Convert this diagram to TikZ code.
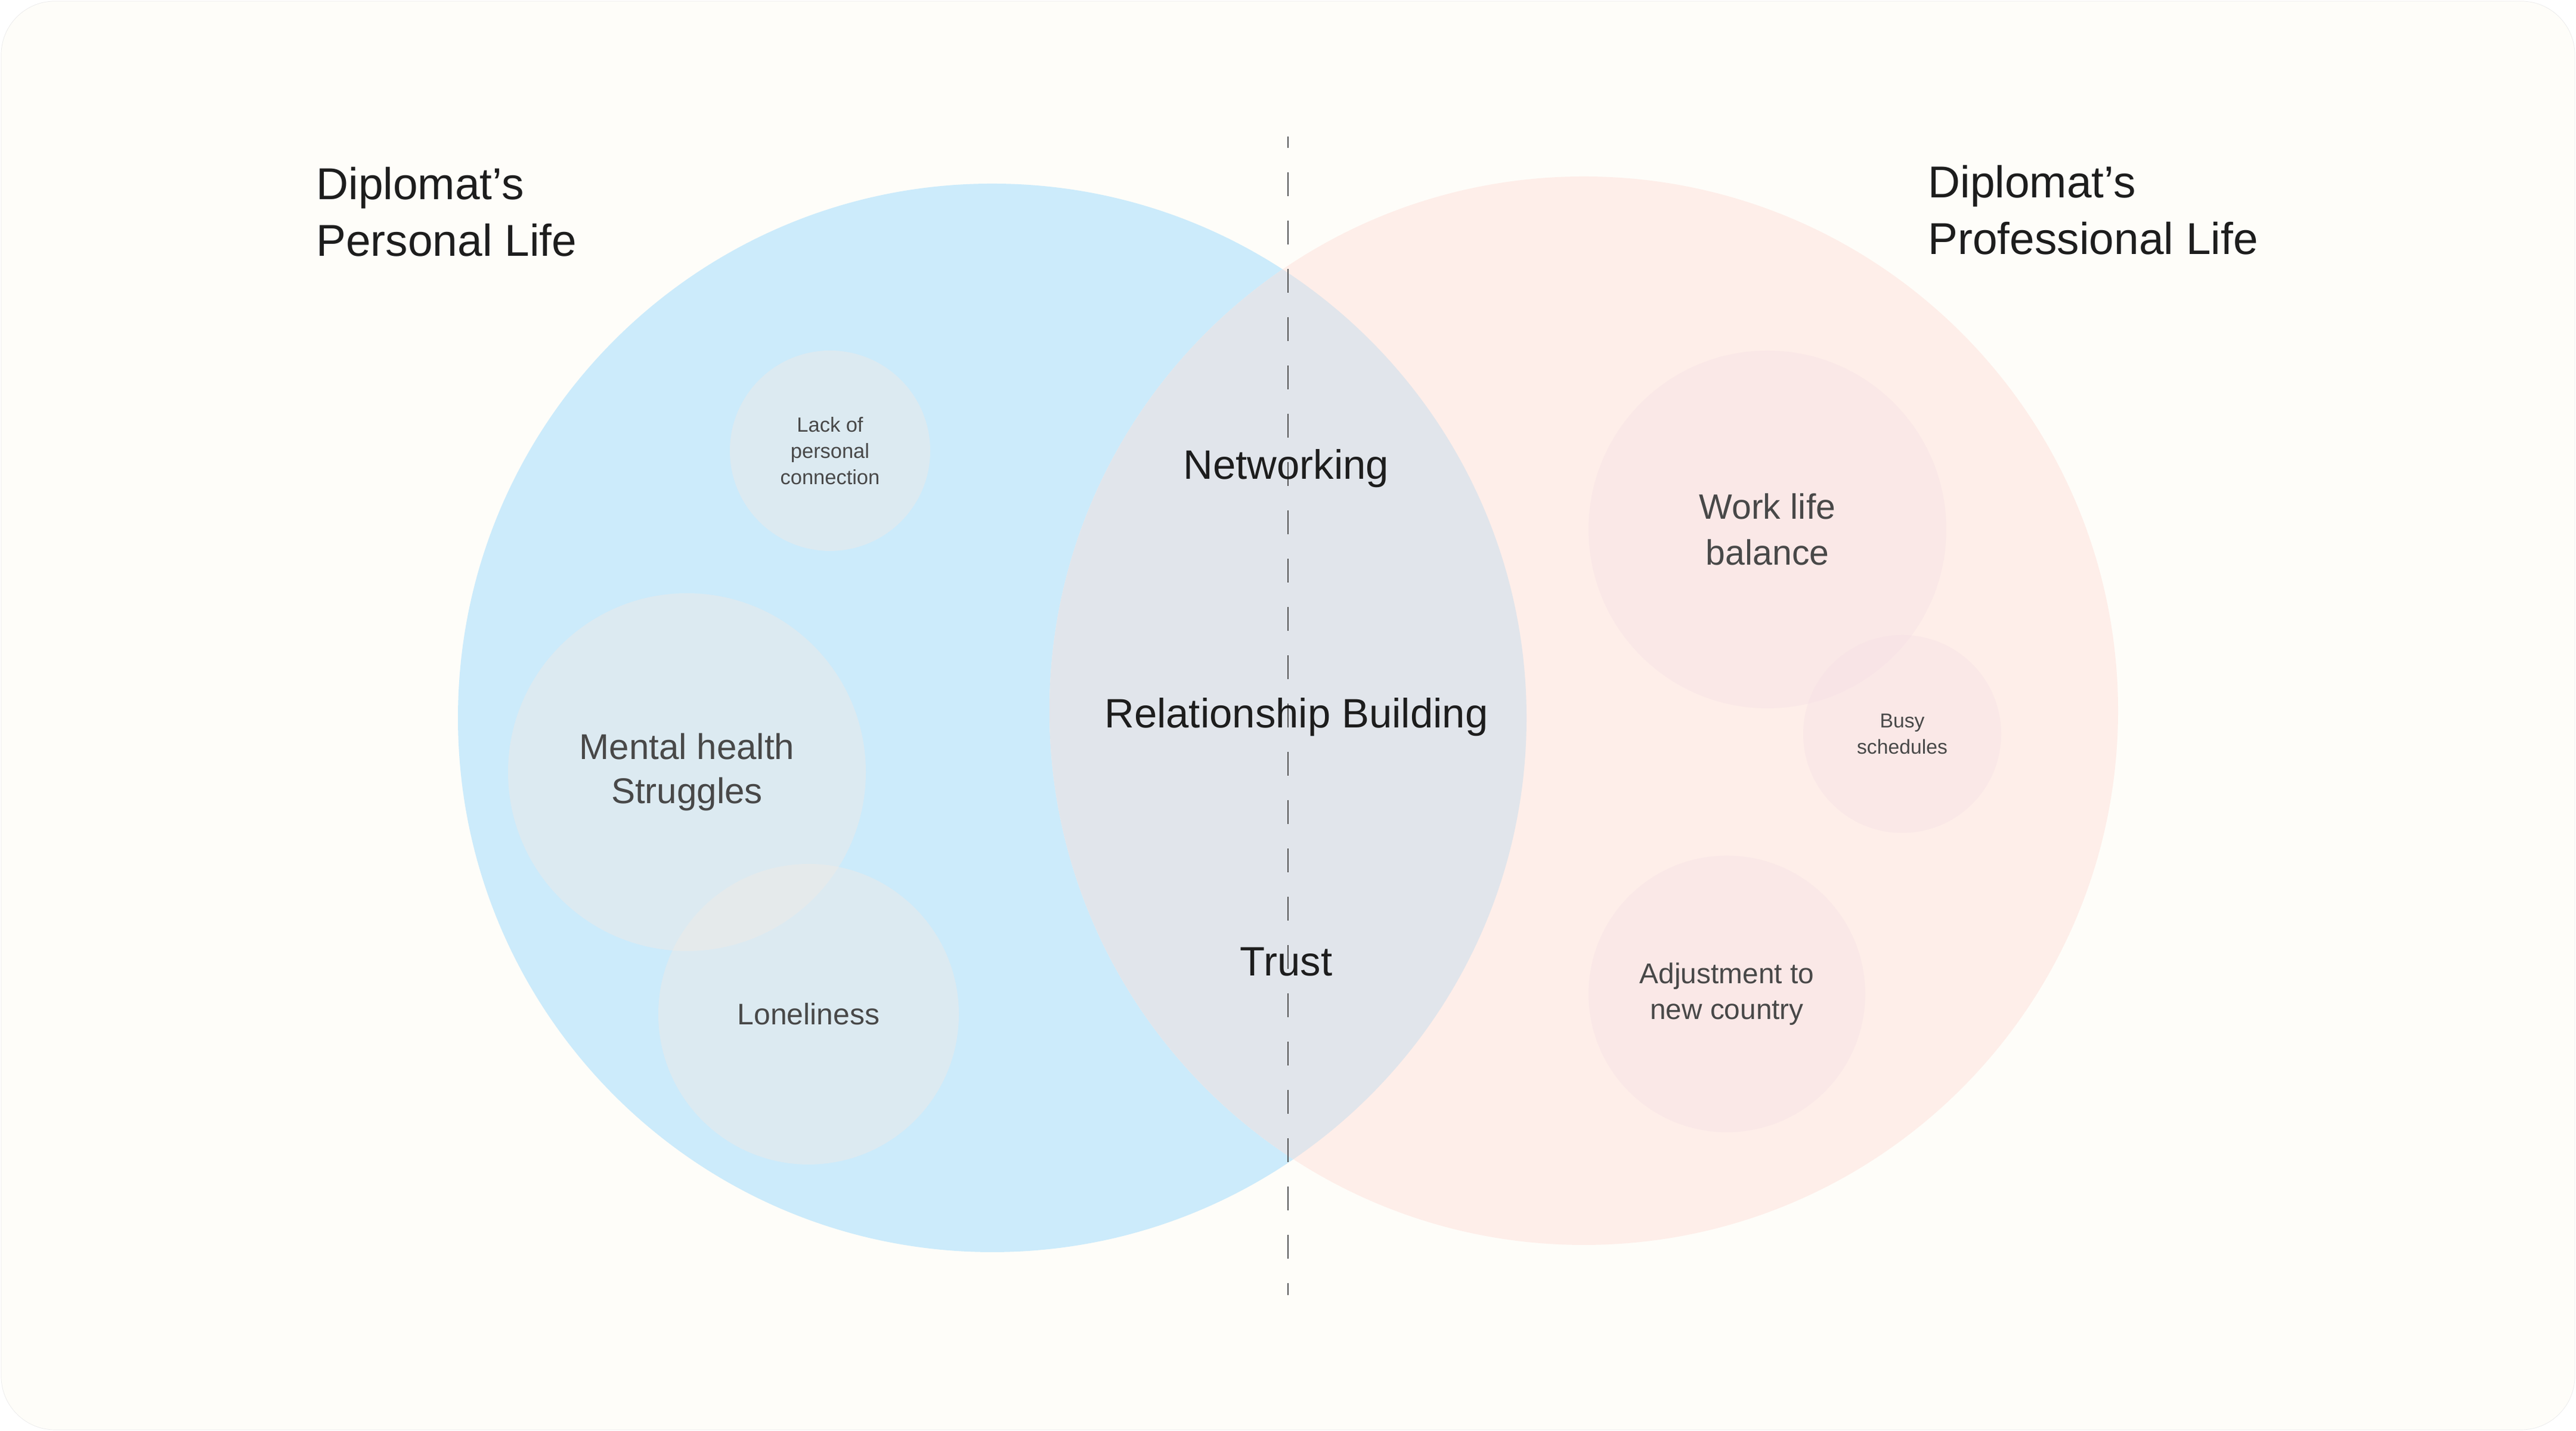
\documentclass[tikz,border=0pt]{standalone}
\usepackage{fontspec}
\setmainfont{Liberation Sans}
\definecolor{pagecream}{HTML}{FEFDF9}
\definecolor{personalblue}{HTML}{CCEBFB}
\definecolor{professionalpink}{HTML}{FEEEE9}
\definecolor{sharedgrey}{HTML}{E1E5EB}
\definecolor{bubbleleft}{HTML}{F4EAE4}
\definecolor{bubbleright}{HTML}{F6DFE6}
\definecolor{inkdark}{HTML}{1D1D1D}
\definecolor{labelgrey}{HTML}{484848}

\begin{document}
\begin{tikzpicture}[
    bubble/.style={circle, inner sep=0pt, fill=bubbleleft, fill opacity=0.4,
        text opacity=1, text=labelgrey, align=center},
    bubbler/.style={bubble, fill=bubbleright},
    midlabel/.style={text=inkdark, anchor=base, font=\fontsize{19.6}{24}\selectfont},
    heading/.style={text=inkdark, anchor=base west, align=left,
        font=\fontsize{21.3}{27.3}\selectfont},
    divider/.style={color=black!68, line width=0.57pt,
        dash pattern=on 0.40cm off 0.41cm, dash phase=0.21cm}]
    \useasboundingbox (0,0) rectangle (43.2,24);
    \fill[white] (0,0) rectangle (43.2,24);
    \filldraw[fill=pagecream, draw=black!8, very thin, rounded corners=0.9cm] (0.02,0.02) rectangle (43.18,23.98);
    % the two lives and what they share
    \fill[personalblue] (16.64,11.96) circle (8.96);
    \fill[professionalpink] (26.56,12.08) circle (8.96);
    \begin{scope}
        \clip (16.64,11.96) circle (8.96);
        \fill[sharedgrey] (26.56,12.08) circle (8.96);
    \end{scope}
    \coordinate (divtop) at (21.60,21.71);
    \coordinate (divbot) at (21.60,2.28);
    \draw[divider] (divtop) -- (divbot);
    % personal side
    \node[bubble, minimum size=3.36cm, font=\fontsize{9.8}{12.5}\selectfont] (lack) at (13.92,16.44) {Lack of\\personal\\connection};
    \node[bubble, minimum size=6.0cm, font=\fontsize{17.1}{21.3}\selectfont] (mental) at (11.52,11.05) {Mental health\\Struggles};
    \node[bubble, minimum size=5.04cm, font=\fontsize{14.2}{17}\selectfont] (lonely) at (13.56,6.99) {Loneliness};
    % professional side
    \node[bubbler, minimum size=6.0cm, font=\fontsize{16.8}{21.9}\selectfont] (worklife) at (29.64,15.12) {Work life\\balance};
    \node[bubbler, minimum size=3.32cm, font=\fontsize{9.6}{12.5}\selectfont] (busy) at (31.90,11.69) {Busy\\schedules};
    \node[bubbler, minimum size=4.64cm, font=\fontsize{13.6}{17.1}\selectfont] (adjust) at (28.96,7.33) {Adjustment to\\new country};
    % shared ground
    \node[midlabel] (network) at (21.57,15.96) {Networking};
    \node[midlabel] (relation) at (21.74,11.79) {Relationship Building};
    \node[midlabel] (trust) at (21.57,7.63) {Trust};
    \node[heading] (personal) at (5.18,19.70) {Diplomat’s\\Personal Life};
    \node[heading] (professional) at (32.21,19.73) {Diplomat’s\\Professional Life};
\end{tikzpicture}
\end{document}
